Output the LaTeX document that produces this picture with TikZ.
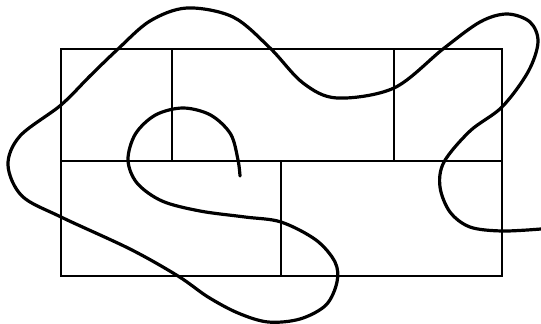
\documentclass[tikz,border=0pt]{standalone}
\begin{document}
\begin{tikzpicture}[x=1pt,y=-1pt,
  gridline/.style={line width=1.3pt,black},
  loopcurve/.style={line width=3.2pt,black,line cap=round,line join=round}]
\useasboundingbox (0,0) rectangle (541,324);
% grid
\draw[gridline] (61,49) rectangle (502,276);
\draw[gridline] (61,161) -- (502,161);
\draw[gridline] (172,49) -- (172,161);
\draw[gridline] (394,49) -- (394,161);
\draw[gridline] (281,161) -- (281,276);
% curve
\draw[loopcurve] plot[smooth,tension=0.55] coordinates {
 (240,176) (238,160) (230.6,134) (210.5,115) (183,108) (155.5,115) (135.4,134) (128,160)
 (137,183) (162,201) (200,211) (245,217) (281,222) (316,240) (335,262) (337,282)
 (326,305) (300,319) (268,322) (238,313) (208,297) (178,276) (130,249) (61,217)
 (22,196) (8,165) (20,136) (61,105) (90,76) (118,49) (150,21) (187,8) (233,17)
 (270,48) (303,83) (337,98) (394,88) (443,49) (480,22) (507,14) (530,22)
 (538,42) (528,72) (502,107) (470,131) (444,162) (440,187) (450,212) (470,227)
 (502,231) (541,229)};
\end{tikzpicture}
\end{document}
